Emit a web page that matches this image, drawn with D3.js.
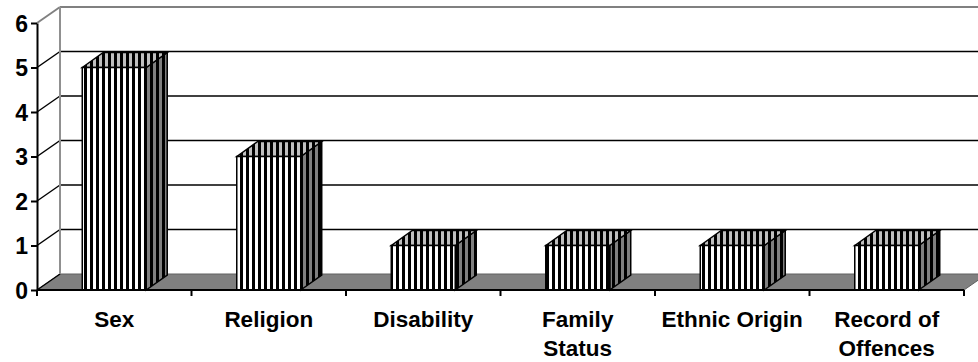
<!DOCTYPE html>
<html>
<head>
<meta charset="utf-8">
<script src="https://cdn.jsdelivr.net/npm/d3@7"></script>
<style>
  html, body { margin: 0; padding: 0; background: #fff; }
  svg { display: block; }
  text { font-family: "Liberation Sans", Arial, sans-serif; font-weight: bold; fill: #000; }
</style>
</head>
<body>
<svg id="chart" width="978" height="362"></svg>
<script>
// Number of cases by ground of discrimination
const categories = ["Sex", "Religion", "Disability", "Family Status", "Ethnic Origin", "Record of Offences"];
const categoryLines = [["Sex"], ["Religion"], ["Disability"], ["Family", "Status"], ["Ethnic Origin"], ["Record of", "Offences"]];
const values = [5, 3, 1, 1, 1, 1];
const yTicks = [0, 1, 2, 3, 4, 5, 6];

const svg = d3.select("#chart");
const W = 978, H = 362;

// front plane of the plot and the 3-D depth offset of the walls
const front = { left: 37, right: 964, top: 23, bottom: 290 };
const depth = { dx: 23, dy: -16 };
const barDepth = { dx: 21, dy: -15 };

const x = d3.scaleBand().domain(categories).range([front.left, front.right]).paddingInner(0).paddingOuter(0);
const y = d3.scaleLinear().domain([0, 6]).range([front.bottom, front.top]);
const barW = x.bandwidth() * 0.414;

// stripe fills for the bar faces
const defs = svg.append("defs");
function stripes(id, bg) {
  const p = defs.append("pattern").attr("id", id).attr("patternUnits", "userSpaceOnUse")
    .attr("width", 6).attr("height", 10).attr("x", 0);
  p.append("rect").attr("width", 6).attr("height", 10).attr("fill", bg);
  p.append("rect").attr("width", 3).attr("height", 10).attr("fill", "#000");
}
stripes("stripeFront", "#ffffff");
stripes("stripeTop", "#c0c0c0");
stripes("stripeSide", "#808080");

const clip = defs.append("clipPath").attr("id", "frame");
clip.append("rect").attr("width", W).attr("height", H);

const g = svg.append("g").attr("clip-path", "url(#frame)");

// floor
const bx = (px) => px + depth.dx, by = (py) => py + depth.dy;
g.append("path")
  .attr("d", d3.line()([
    [front.left, y(0)], [bx(front.left), by(y(0))],
    [bx(front.right), by(y(0))], [front.right, y(0)]
  ]) + "Z")
  .attr("fill", "#808080").attr("stroke", "#606060").attr("stroke-width", 1);

// back wall gridlines
yTicks.forEach(t => {
  const top = t === yTicks[yTicks.length - 1];
  if (t > 0) {
    g.append("line")
      .attr("x1", bx(front.left)).attr("x2", W + 10)
      .attr("y1", by(y(t))).attr("y2", by(y(t)))
      .attr("stroke", top ? "#808080" : "#000").attr("stroke-width", top ? 2 : 1.5);
  }
  // side-wall diagonals
  g.append("line")
    .attr("x1", front.left).attr("y1", y(t))
    .attr("x2", bx(front.left)).attr("y2", by(y(t)))
    .attr("stroke", top ? "#808080" : "#000").attr("stroke-width", top ? 2 : 1.5);
});

// side wall back edge
g.append("line")
  .attr("x1", bx(front.left)).attr("x2", bx(front.left))
  .attr("y1", by(y(6))).attr("y2", by(y(0)))
  .attr("stroke", "#909090").attr("stroke-width", 2);

// bars as striped boxes
const bars = g.selectAll("g.bar").data(categories.map((c, i) => ({ c, v: values[i] })))
  .join("g").attr("class", "bar");

bars.each(function (d) {
  const gg = d3.select(this);
  const x0 = x(d.c) + (x.bandwidth() - barW) / 2, x1 = x0 + barW;
  const y0 = y(0), y1 = y(d.v);
  const ddx = barDepth.dx, ddy = barDepth.dy;
  // side face
  gg.append("path")
    .attr("d", d3.line()([[x1, y0], [x1 + ddx, y0 + ddy], [x1 + ddx, y1 + ddy], [x1, y1]]) + "Z")
    .attr("fill", "url(#stripeSide)").attr("stroke", "#000").attr("stroke-width", 1.5);
  // top face
  gg.append("path")
    .attr("d", d3.line()([[x0, y1], [x0 + ddx, y1 + ddy], [x1 + ddx, y1 + ddy], [x1, y1]]) + "Z")
    .attr("fill", "url(#stripeTop)").attr("stroke", "#000").attr("stroke-width", 1.5);
  // front face
  gg.append("rect")
    .attr("x", x0).attr("y", y1).attr("width", barW).attr("height", y0 - y1)
    .attr("fill", "url(#stripeFront)").attr("stroke", "#000").attr("stroke-width", 1.5);
});

// value axis
const yAxis = svg.append("g").attr("transform", `translate(${front.left},0)`)
  .call(d3.axisLeft(y).tickValues(yTicks).tickFormat(d3.format("d")).tickSizeInner(6).tickSizeOuter(0));
yAxis.select(".domain").attr("stroke", "#000").attr("stroke-width", 2);
yAxis.selectAll(".tick line").attr("stroke", "#000").attr("stroke-width", 2);
yAxis.selectAll(".tick text").attr("x", -9).attr("dy", "0.36em")
  .style("font-size", "23px").style("font-family", "Liberation Sans, Arial, sans-serif").style("font-weight", "bold");

// category axis line with ticks at band boundaries
svg.append("line")
  .attr("x1", front.left).attr("x2", front.right).attr("y1", y(0)).attr("y2", y(0))
  .attr("stroke", "#000").attr("stroke-width", 2);
const bounds = categories.map(c => x(c)).concat([x.range()[1]]);
svg.selectAll("line.ctick").data(bounds).join("line").attr("class", "ctick")
  .attr("x1", d => d).attr("x2", d => d).attr("y1", y(0)).attr("y2", y(0) + 6)
  .attr("stroke", "#000").attr("stroke-width", 2);

// category labels
svg.selectAll("text.cat").data(categories).join("text").attr("class", "cat")
  .attr("text-anchor", "middle")
  .attr("x", d => x(d) + x.bandwidth() / 2)
  .attr("y", 327)
  .style("font-size", "22.5px")
  .each(function (d, i) {
    const t = d3.select(this);
    categoryLines[i].forEach((ln, k) => {
      t.append("tspan").attr("x", x(d) + x.bandwidth() / 2).attr("dy", k === 0 ? 0 : 29).text(ln);
    });
  });
</script>
</body>
</html>
